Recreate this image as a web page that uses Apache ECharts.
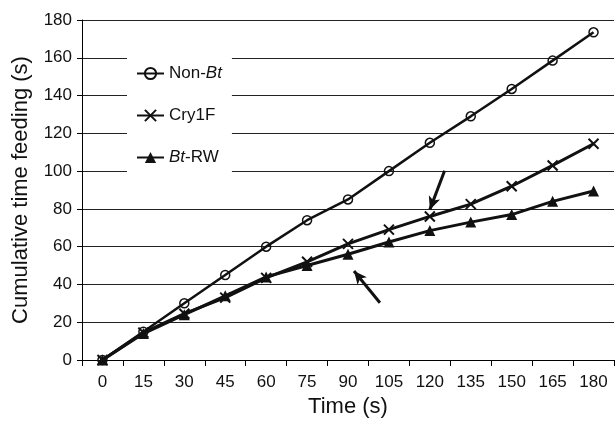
<!DOCTYPE html>
<html>
<head>
<meta charset="utf-8">
<script src="https://cdn.jsdelivr.net/npm/echarts@6/dist/echarts.min.js"></script>
<style>
html,body{margin:0;padding:0;background:#fff;}
#c{width:615px;height:423px;}
</style>
</head>
<body>
<div id="c"></div>
<script>
// ---- data ----
const categories = ['0','15','30','45','60','75','90','105','120','135','150','165','180'];
const nonBt  = [0, 15, 30, 45, 60, 74, 85, 100, 115, 129, 143.5, 158.5, 173.5];
const cry1F  = [0, 14.5, 24.5, 33, 43.5, 52, 61.5, 69, 76, 82.5, 92, 103, 114.5];
const btRW   = [0, 14, 24, 34, 44, 50, 56, 62.5, 68.5, 73, 77, 84, 89.5];
const yTicks = {min: 0, max: 180, interval: 20};
// annotation arrows in (time s, cumulative s): [tail, tip]
const arrow1 = [[125.4, 100.2], [120, 79.6]];
const arrow2 = [[101.7, 30.3], [92.2, 47.1]];

const FONT = "'Liberation Sans', Arial, sans-serif";
const INK = '#111';
const chart = echarts.init(document.getElementById('c'), null, {renderer: 'canvas'});

const xMark = 'path://M0,0L10,10M10,0L0,10';

chart.setOption({
  animation: false,
  backgroundColor: '#fff',
  textStyle: {fontFamily: FONT, color: INK},
  grid: {left: 82, right: 1, top: 20, bottom: 58, containLabel: false},
  legend: {
    orient: 'vertical',
    left: 127, top: 43,
    padding: [22, 10, 22, 9],
    backgroundColor: '#fff',
    itemWidth: 27, itemHeight: 14, itemGap: 25,
    selectedMode: false,
    data: ['Non-Bt', 'Cry1F', 'Bt-RW'],
    formatter: function (n) {
      if (n === 'Non-Bt') return 'Non-{i|Bt}';
      if (n === 'Bt-RW') return '{i|Bt}-RW';
      return n;
    },
    textStyle: {
      fontFamily: FONT, fontSize: 17, color: INK,
      rich: {i: {fontStyle: 'italic', fontFamily: FONT, fontSize: 17, color: INK}}
    }
  },
  xAxis: [{
    type: 'category',
    data: categories,
    boundaryGap: true,
    name: 'Time (s)',
    nameLocation: 'middle',
    nameGap: 36,
    nameTextStyle: {fontFamily: FONT, fontSize: 22, color: INK},
    axisLine: {show: true, onZero: false, lineStyle: {color: '#000', width: 1}},
    axisTick: {show: true, length: 6, lineStyle: {color: '#000'}},
    axisLabel: {fontFamily: FONT, fontSize: 17, color: INK, margin: 14},
    splitLine: {show: false}
  }, {
    type: 'value', show: false, min: -7.5, max: 187.5,
    axisLine: {onZero: false}
  }],
  yAxis: {
    type: 'value',
    min: yTicks.min, max: yTicks.max, interval: yTicks.interval,
    name: 'Cumulative time feeding (s)',
    nameLocation: 'middle',
    nameGap: 50,
    nameTextStyle: {fontFamily: FONT, fontSize: 22, color: INK},
    axisLine: {show: true, onZero: false, lineStyle: {color: '#000', width: 1}},
    axisTick: {show: true, length: 5, lineStyle: {color: '#000'}},
    axisLabel: {fontFamily: FONT, fontSize: 17, color: INK, margin: 10},
    splitLine: {show: true, lineStyle: {color: '#222', width: 1}}
  },
  series: [
    {
      name: 'Non-Bt', type: 'line', data: nonBt,
      symbol: 'circle', symbolSize: 9,
      itemStyle: {color: 'rgba(255,255,255,0)', borderColor: INK, borderWidth: 1.5},
      lineStyle: {color: INK, width: 2.5},
      emphasis: {disabled: true}, z: 3
    },
    {
      name: 'Cry1F', type: 'line', data: cry1F,
      symbol: xMark, symbolSize: 10,
      itemStyle: {color: INK, borderColor: INK, borderWidth: 2},
      lineStyle: {color: INK, width: 3},
      emphasis: {disabled: true}, z: 4
    },
    {
      name: 'Bt-RW', type: 'line', data: btRW,
      symbol: 'triangle', symbolSize: 11,
      itemStyle: {color: INK},
      lineStyle: {color: INK, width: 3},
      emphasis: {disabled: true}, z: 5
    },
    {
      name: 'arrows', type: 'scatter', xAxisIndex: 1, data: [],
      silent: true,
      markLine: {
        silent: true,
        symbol: ['none', 'arrow'],
        symbolSize: [9, 13],
        label: {show: false},
        lineStyle: {color: INK, width: 3, type: 'solid'},
        emphasis: {disabled: true},
        data: [
          [{coord: arrow1[0]}, {coord: arrow1[1]}],
          [{coord: arrow2[0]}, {coord: arrow2[1]}]
        ]
      }
    }
  ]
});
</script>
</body>
</html>
